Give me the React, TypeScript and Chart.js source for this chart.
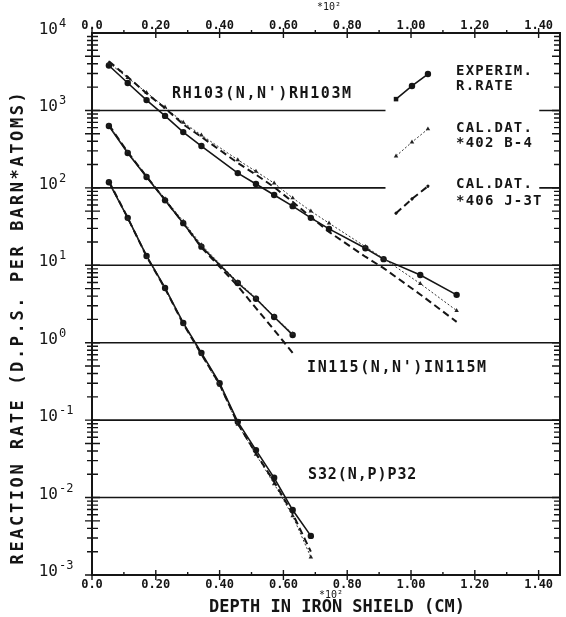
import React, { useEffect, useRef } from 'react';
import { Chart, registerables } from 'chart.js';

Chart.register(...registerables);

// ---------- axis definitions ----------
const X_MIN = 0;
const X_MAX = 1.467;
const X_TICKS = [0, 0.2, 0.4, 0.6, 0.8, 1.0, 1.2, 1.4];
const X_TICK_LABELS = ['0.0', '0.20', '0.40', '0.60', '0.80', '1.00', '1.20', '1.40'];
const X_MINOR = [0.1, 0.3, 0.5, 0.7, 0.9, 1.1, 1.3];
const Y_MIN = 1e-3;
const Y_MAX = 1e4;
const Y_DECADES = [-3, -2, -1, 0, 1, 2, 3, 4];
const Y_EXP_LABELS = ['-3', '-2', '-1', '0', '1', '2', '3', '4'];
const GRID_DECADES = [-2, -1, 0, 1, 2, 3];
const GRID_GAP_DECADES = [2, 3];
const GRID_GAP = [0.92, 1.402];

const X_TITLE = 'DEPTH IN IRON SHIELD (CM)';
const Y_TITLE = 'REACTION RATE (D.P.S. PER BARN*ATOMS)';
const X_MULT = '*10²';

// ---------- Rh103(n,n')Rh103m ----------
const RH_X = [0.053, 0.112, 0.171, 0.229, 0.286, 0.343, 0.457, 0.514, 0.571, 0.629, 0.686, 0.743, 0.857, 0.914, 1.029, 1.143];
const RH_EXP = [3800, 2260, 1360, 850, 525, 347, 155, 112, 81, 58, 41, 29.5, 16.6, 12, 7.5, 4.15];
const RH_402 = [4100, 2650, 1700, 1100, 700, 480, 230, 163, 115, 74, 50, 35, 17.4, 12.2, 5.8, 2.6];
const RH_406 = [4300, 2700, 1660, 1070, 660, 455, 210, 148, 102, 66, 42, 27, 12.9, 9.2, 4.2, 1.86];

// ---------- In115(n,n')In115m ----------
const IN_X = [0.053, 0.112, 0.171, 0.229, 0.286, 0.343, 0.457, 0.514, 0.571, 0.629];
const IN_EXP = [630, 282, 138, 69, 35, 17.4, 5.9, 3.7, 2.15, 1.26];
const IN_402 = [640, 290, 142, 72, 37, 18.3, 6.1, 3.8, 2.2, 1.3];
const IN_406 = [650, 290, 140, 70, 35, 17, 5.4, 2.8, 1.46, 0.74];

// ---------- S32(n,p)P32 ----------
const S_X = [0.053, 0.112, 0.171, 0.229, 0.286, 0.343, 0.400, 0.457, 0.514, 0.571, 0.629, 0.686];
const S_EXP = [118, 41, 13.2, 5.1, 1.8, 0.74, 0.30, 0.095, 0.041, 0.018, 0.0069, 0.0032];
const S_402 = [120, 40, 13, 5.0, 1.75, 0.70, 0.28, 0.088, 0.036, 0.015, 0.0058, 0.0017];
const S_406 = [122, 41, 13, 5.0, 1.75, 0.71, 0.29, 0.090, 0.037, 0.016, 0.0062, 0.0020];

// ---------- in-plot key (drawn in data space) ----------
const KEY_X = [0.953, 1.003, 1.053];
const KEY_EXP = [1400, 2070, 2950];
const KEY_402 = [257, 390, 575];
const KEY_406 = [47, 72, 105];
const KEY_TEXT = ['EXPERIM.', 'R.RATE', 'CAL.DAT.', '*402 B-4', 'CAL.DAT.', '*406 J-3T'];
const REACTION_LABELS = ["RH103(N,N')RH103M", "IN115(N,N')IN115M", 'S32(N,P)P32'];

const pts = (xs: number[], ys: number[]) => xs.map((x, i) => ({ x, y: ys[i] }));

const FONT = '"DejaVu Sans Mono", monospace';
const INK = '#151515';

const expStyle = {
  borderColor: INK,
  backgroundColor: INK,
  borderWidth: 1.6,
  pointRadius: 3.2,
  pointStyle: 'circle',
  pointBackgroundColor: INK,
  pointBorderColor: INK,
  pointBorderWidth: 0,
};
const s402Style = {
  borderColor: '#333',
  backgroundColor: '#333',
  borderWidth: 1,
  borderDash: [2, 2],
  pointRadius: 2.6,
  pointStyle: 'triangle',
  pointBackgroundColor: '#222',
  pointBorderColor: '#222',
  pointBorderWidth: 0,
};
const s406Style = {
  borderColor: INK,
  backgroundColor: INK,
  borderWidth: 2,
  borderDash: [7, 4],
  pointRadius: 0,
};

function drawSpaced(ctx: CanvasRenderingContext2D, text: string, x: number, y: number, spacing: number) {
  (ctx as any).letterSpacing = spacing + 'px';
  ctx.fillText(text, x, y);
  (ctx as any).letterSpacing = '0px';
}

const decor = {
  id: 'decor',
  beforeDatasetsDraw(chart: any) {
    const { ctx, chartArea: a, scales } = chart;
    const xs = scales.x;
    const ys = scales.y;
    ctx.save();
    ctx.strokeStyle = INK;
    ctx.lineWidth = 1.6;
    for (const d of GRID_DECADES) {
      const py = ys.getPixelForValue(Math.pow(10, d));
      ctx.beginPath();
      if (GRID_GAP_DECADES.includes(d)) {
        ctx.moveTo(a.left, py);
        ctx.lineTo(xs.getPixelForValue(GRID_GAP[0]), py);
        ctx.moveTo(xs.getPixelForValue(GRID_GAP[1]), py);
        ctx.lineTo(a.right, py);
      } else {
        ctx.moveTo(a.left, py);
        ctx.lineTo(a.right, py);
      }
      ctx.stroke();
    }
    ctx.restore();
  },
  afterDraw(chart: any) {
    const { ctx, chartArea: a, scales } = chart;
    const xs = scales.x;
    const ys = scales.y;
    ctx.save();
    ctx.strokeStyle = INK;
    ctx.fillStyle = INK;

    // frame
    ctx.lineWidth = 2;
    ctx.strokeRect(a.left, a.top, a.right - a.left, a.bottom - a.top);

    // y minor/major ticks
    ctx.lineWidth = 1.4;
    for (let d = -3; d < 4; d++) {
      for (let m = 1; m <= 9; m++) {
        const py = ys.getPixelForValue(m * Math.pow(10, d));
        const long = m === 1 || m === 5;
        ctx.beginPath();
        ctx.moveTo(a.left - (long ? 7 : 5), py);
        ctx.lineTo(a.left + (long ? 8 : 6), py);
        ctx.moveTo(a.right, py);
        ctx.lineTo(a.right - (long ? 8 : 6), py);
        ctx.stroke();
      }
    }
    // x ticks
    for (const v of X_TICKS) {
      const px = xs.getPixelForValue(v);
      ctx.beginPath();
      ctx.moveTo(px, a.bottom - 5);
      ctx.lineTo(px, a.bottom + 5);
      ctx.moveTo(px, a.top - 5);
      ctx.lineTo(px, a.top + 5);
      ctx.stroke();
    }
    for (const v of X_MINOR) {
      const px = xs.getPixelForValue(v);
      ctx.beginPath();
      ctx.moveTo(px, a.bottom - 3);
      ctx.lineTo(px, a.bottom);
      ctx.moveTo(px, a.top - 3);
      ctx.lineTo(px, a.top);
      ctx.stroke();
    }

    // y labels 10^n
    ctx.textBaseline = 'alphabetic';
    Y_DECADES.forEach((d, i) => {
      const py = ys.getPixelForValue(Math.pow(10, d));
      ctx.font = `16px ${FONT}`;
      ctx.textAlign = 'right';
      ctx.fillText('10', 58, py + 1);
      ctx.font = `12px ${FONT}`;
      ctx.textAlign = 'left';
      ctx.fillText(Y_EXP_LABELS[i], 59, py - 6);
    });

    // multiplier labels
    ctx.font = `10px ${FONT}`;
    ctx.textAlign = 'center';
    ctx.fillText(X_MULT, 329, 10);
    ctx.fillText(X_MULT, 331, 598);

    // axis titles
    ctx.font = `bold 17px ${FONT}`;
    ctx.textAlign = 'center';
    ctx.textBaseline = 'middle';
    drawSpaced(ctx, X_TITLE, 337, 608, 0);
    ctx.save();
    ctx.translate(19, 327);
    ctx.rotate(-Math.PI / 2);
    drawSpaced(ctx, Y_TITLE, 0, 0, 2.6);
    ctx.restore();

    // reaction labels
    ctx.textAlign = 'left';
    ctx.textBaseline = 'alphabetic';
    ctx.font = `bold 15px ${FONT}`;
    drawSpaced(ctx, REACTION_LABELS[0], 172, 98, 1.6);
    drawSpaced(ctx, REACTION_LABELS[1], 307, 372, 1.6);
    drawSpaced(ctx, REACTION_LABELS[2], 308, 479, 0.9);

    // key text
    ctx.font = `bold 14px ${FONT}`;
    const keyY = [75, 90, 132, 147, 188, 205];
    KEY_TEXT.forEach((t, i) => drawSpaced(ctx, t, 456, keyY[i], 1.2));

    ctx.restore();
  },
};

export default function App() {
  const ref = useRef<HTMLCanvasElement | null>(null);
  useEffect(() => {
    if (!ref.current) return;
    const xAxisBase = {
      type: 'linear',
      min: X_MIN,
      max: X_MAX,
      afterBuildTicks: (s: any) => {
        s.ticks = X_TICKS.map((v) => ({ value: v }));
      },
      grid: { display: false, drawTicks: false },
      border: { display: false },
    };
    const tickFont = { family: FONT, size: 12, weight: 'bold' };
    const labelFor = (v: number) => {
      const i = X_TICKS.findIndex((t) => Math.abs(t - v) < 1e-6);
      return i >= 0 ? X_TICK_LABELS[i] : '';
    };
    const chart = new Chart(ref.current, {
      type: 'line',
      data: {
        datasets: [
          { ...s406Style, data: pts(RH_X, RH_406) },
          { ...s402Style, data: pts(RH_X, RH_402) },
          { ...expStyle, data: pts(RH_X, RH_EXP) },
          { ...s406Style, data: pts(IN_X, IN_406) },
          { ...s402Style, data: pts(IN_X, IN_402) },
          { ...expStyle, data: pts(IN_X, IN_EXP) },
          { ...s406Style, data: pts(S_X, S_406) },
          { ...s402Style, data: pts(S_X, S_402) },
          { ...expStyle, data: pts(S_X, S_EXP) },
          { ...expStyle, pointStyle: ['rect', 'circle', 'circle'], data: pts(KEY_X, KEY_EXP) },
          { ...s402Style, data: pts(KEY_X, KEY_402) },
          { ...s406Style, pointRadius: 1.5, pointStyle: 'crossRot', data: pts(KEY_X, KEY_406) },
        ] as any,
      },
      options: {
        animation: false,
        responsive: true,
        maintainAspectRatio: false,
        devicePixelRatio: 1,
        layout: { padding: 0 },
        plugins: { legend: { display: false }, tooltip: { enabled: false } },
        elements: { line: { tension: 0 } },
        scales: {
          x: {
            ...xAxisBase,
            position: 'bottom',
            ticks: { callback: (v: any) => labelFor(v), font: tickFont, color: INK, padding: 3, maxRotation: 0, autoSkip: false },
            afterFit: (s: any) => { s.height = 42; },
          },
          x2: {
            ...xAxisBase,
            position: 'top',
            ticks: { callback: (v: any) => labelFor(v), font: tickFont, color: INK, padding: 0, maxRotation: 0, autoSkip: false },
            afterFit: (s: any) => { s.height = 33; },
          },
          y: {
            type: 'logarithmic',
            position: 'left',
            min: Y_MIN,
            max: Y_MAX,
            ticks: { display: false },
            grid: { display: false, drawTicks: false },
            border: { display: false },
            afterFit: (s: any) => { s.width = 92; },
          },
          y2: {
            type: 'logarithmic',
            position: 'right',
            min: Y_MIN,
            max: Y_MAX,
            ticks: { display: false },
            grid: { display: false, drawTicks: false },
            border: { display: false },
            afterFit: (s: any) => { s.width = 3; },
          },
        },
      } as any,
      plugins: [decor],
    });
    return () => chart.destroy();
  }, []);
  return (
    <div style={{ position: 'absolute', left: 0, top: 0, width: 566, height: 617, background: '#fff' }}>
      <canvas ref={ref} />
    </div>
  );
}
